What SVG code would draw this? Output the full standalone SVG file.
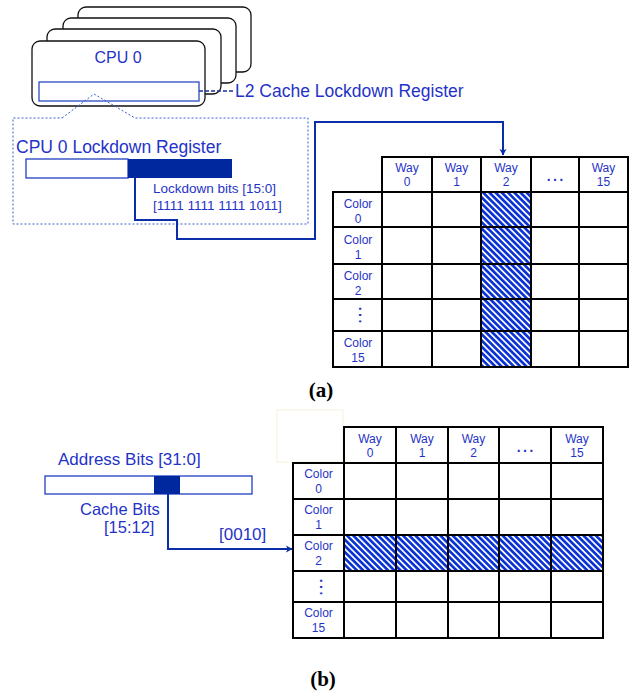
<svg xmlns="http://www.w3.org/2000/svg" width="634" height="694" viewBox="0 0 634 694">
<style>
.t{font-family:"Liberation Sans",Arial,sans-serif;fill:#1f33c8}
.c{font-size:12px;text-anchor:middle}
.card{fill:#fff;stroke:#111;stroke-width:1.3}
.cell{fill:#fff;stroke:#000;stroke-width:2}
.hcell{fill:url(#hatch);stroke:#000;stroke-width:2}
.conn{fill:none;stroke:#0a2ea8;stroke-width:2}
.cap{font-family:"Liberation Serif","Times New Roman",serif;font-weight:bold;font-size:21px;text-anchor:middle;fill:#000}
</style>
<defs>
<pattern id="hatch" patternUnits="userSpaceOnUse" width="4.4" height="4.4" patternTransform="rotate(-45)">
<rect width="4.4" height="4.4" fill="#0b33d4"/>
<rect x="0" y="0" width="1.7" height="4.4" fill="#fff"/>
</pattern>
<marker id="arr" markerWidth="8" markerHeight="8" refX="6" refY="4" orient="auto" markerUnits="userSpaceOnUse">
<path d="M0,0.5 L6.5,4 L0,7.5 L1.5,4 Z" fill="#0a2ea8"/>
</marker>
</defs>
<rect width="634" height="694" fill="#fff"/>

<g id="cpu-stack">
<rect class="card" x="78" y="7" width="173" height="65" rx="8"/>
<rect class="card" x="63" y="18" width="173" height="65" rx="8"/>
<rect class="card" x="47" y="29" width="174" height="65" rx="8"/>
<rect class="card" x="32" y="41" width="173" height="65" rx="8"/>
<text class="t" x="118" y="63" font-size="16" text-anchor="middle">CPU 0</text>
<rect x="39" y="82" width="160" height="19" fill="#fff" stroke="#2a4cc0" stroke-width="1.3"/>
</g>

<g id="l2-label">
<line x1="199" y1="91" x2="233" y2="91" stroke="#1c2f9c" stroke-width="1.5" stroke-dasharray="4,2"/>
<text class="t" x="235" y="97" font-size="17.5">L2 Cache Lockdown Register</text>
</g>

<g id="lockdown-register">
<path d="M62,118 L94,94 L135,118 H308 V224 H13 V118 Z" fill="none" stroke="#3a5bd0" stroke-width="1" stroke-dasharray="2,2"/>
<text class="t" x="16" y="153" font-size="17.5">CPU 0 Lockdown Register</text>
<rect x="26" y="159" width="102" height="19" fill="#fff" stroke="#1f3fc0" stroke-width="1.3"/>
<rect x="128" y="159" width="104" height="19" fill="#00289e"/>
<text class="t" x="153" y="193" font-size="13.5">Lockdown bits [15:0]</text>
<text class="t" x="153" y="210" font-size="13.5">[1111 1111 1111 1011]</text>
</g>

<g id="table-a">
<rect class="cell" x="382" y="157" width="50" height="35"/>
<rect class="cell" x="432" y="157" width="49" height="35"/>
<rect class="cell" x="481" y="157" width="50" height="35"/>
<rect class="cell" x="531" y="157" width="48" height="35"/>
<rect class="cell" x="579" y="157" width="49" height="35"/>
<text class="t c" x="407" y="172">Way</text><text class="t c" x="407" y="186">0</text>
<text class="t c" x="456.5" y="172">Way</text><text class="t c" x="456.5" y="186">1</text>
<text class="t c" x="506" y="172">Way</text><text class="t c" x="506" y="186">2</text>
<text class="t" x="555" y="181" font-size="20" text-anchor="middle">…</text>
<text class="t c" x="603.5" y="172">Way</text><text class="t c" x="603.5" y="186">15</text>

<g>
<rect class="cell" x="333" y="192" width="49" height="35"/>
<rect class="cell" x="382" y="192" width="50" height="35"/>
<rect class="cell" x="432" y="192" width="49" height="35"/>
<rect class="hcell" x="481" y="192" width="50" height="35"/>
<rect class="cell" x="531" y="192" width="48" height="35"/>
<rect class="cell" x="579" y="192" width="49" height="35"/>
<rect class="cell" x="333" y="227" width="49" height="37"/>
<rect class="cell" x="382" y="227" width="50" height="37"/>
<rect class="cell" x="432" y="227" width="49" height="37"/>
<rect class="hcell" x="481" y="227" width="50" height="37"/>
<rect class="cell" x="531" y="227" width="48" height="37"/>
<rect class="cell" x="579" y="227" width="49" height="37"/>
<rect class="cell" x="333" y="264" width="49" height="35"/>
<rect class="cell" x="382" y="264" width="50" height="35"/>
<rect class="cell" x="432" y="264" width="49" height="35"/>
<rect class="hcell" x="481" y="264" width="50" height="35"/>
<rect class="cell" x="531" y="264" width="48" height="35"/>
<rect class="cell" x="579" y="264" width="49" height="35"/>
<rect class="cell" x="333" y="299" width="49" height="32"/>
<rect class="cell" x="382" y="299" width="50" height="32"/>
<rect class="cell" x="432" y="299" width="49" height="32"/>
<rect class="hcell" x="481" y="299" width="50" height="32"/>
<rect class="cell" x="531" y="299" width="48" height="32"/>
<rect class="cell" x="579" y="299" width="49" height="32"/>
<rect class="cell" x="333" y="331" width="49" height="36"/>
<rect class="cell" x="382" y="331" width="50" height="36"/>
<rect class="cell" x="432" y="331" width="49" height="36"/>
<rect class="hcell" x="481" y="331" width="50" height="36"/>
<rect class="cell" x="531" y="331" width="48" height="36"/>
<rect class="cell" x="579" y="331" width="49" height="36"/>
</g>
<text class="t c" x="358" y="208">Color</text><text class="t c" x="358" y="223">0</text>
<text class="t c" x="358" y="244">Color</text><text class="t c" x="358" y="259">1</text>
<text class="t c" x="358" y="280">Color</text><text class="t c" x="358" y="295">2</text>
<text class="t" font-size="20" text-anchor="middle" transform="translate(359,315) rotate(90)">…</text>
<text class="t c" x="358" y="347">Color</text><text class="t c" x="358" y="362">15</text>
</g>

<text class="cap" x="321" y="397">(a)</text>

<g id="address-bits">
<text class="t" x="58" y="465" font-size="17">Address Bits [31:0]</text>
<rect x="45" y="476" width="207" height="18" fill="#fff" stroke="#1f3fc0" stroke-width="1.3"/>
<rect x="154" y="476" width="26" height="18" fill="#00289e"/>
<text class="t" x="80" y="515" font-size="16.5">Cache Bits</text>
<text class="t" x="104" y="533" font-size="16.5">[15:12]</text>
<text class="t" x="219" y="540" font-size="17">[0010]</text>
</g>

<g id="table-b">
<rect x="277" y="410" width="66" height="52" fill="none" stroke="#f7f2dc" stroke-width="1"/>
<rect class="cell" x="344" y="427" width="52" height="36"/>
<rect class="cell" x="396" y="427" width="52" height="36"/>
<rect class="cell" x="448" y="427" width="51" height="36"/>
<rect class="cell" x="499" y="427" width="52" height="36"/>
<rect class="cell" x="551" y="427" width="52" height="36"/>
<text class="t c" x="370" y="443">Way</text><text class="t c" x="370" y="457">0</text>
<text class="t c" x="422" y="443">Way</text><text class="t c" x="422" y="457">1</text>
<text class="t c" x="473.5" y="443">Way</text><text class="t c" x="473.5" y="457">2</text>
<text class="t" x="525" y="452" font-size="20" text-anchor="middle">…</text>
<text class="t c" x="577" y="443">Way</text><text class="t c" x="577" y="457">15</text>
<g>
<rect class="cell" x="293" y="463" width="51" height="36"/>
<rect class="cell" x="344" y="463" width="52" height="36"/>
<rect class="cell" x="396" y="463" width="52" height="36"/>
<rect class="cell" x="448" y="463" width="51" height="36"/>
<rect class="cell" x="499" y="463" width="52" height="36"/>
<rect class="cell" x="551" y="463" width="52" height="36"/>
<rect class="cell" x="293" y="499" width="51" height="36"/>
<rect class="cell" x="344" y="499" width="52" height="36"/>
<rect class="cell" x="396" y="499" width="52" height="36"/>
<rect class="cell" x="448" y="499" width="51" height="36"/>
<rect class="cell" x="499" y="499" width="52" height="36"/>
<rect class="cell" x="551" y="499" width="52" height="36"/>
<rect class="cell" x="293" y="535" width="51" height="36"/>
<rect class="hcell" x="344" y="535" width="52" height="36"/>
<rect class="hcell" x="396" y="535" width="52" height="36"/>
<rect class="hcell" x="448" y="535" width="51" height="36"/>
<rect class="hcell" x="499" y="535" width="52" height="36"/>
<rect class="hcell" x="551" y="535" width="52" height="36"/>
<rect class="cell" x="293" y="571" width="51" height="31"/>
<rect class="cell" x="344" y="571" width="52" height="31"/>
<rect class="cell" x="396" y="571" width="52" height="31"/>
<rect class="cell" x="448" y="571" width="51" height="31"/>
<rect class="cell" x="499" y="571" width="52" height="31"/>
<rect class="cell" x="551" y="571" width="52" height="31"/>
<rect class="cell" x="293" y="602" width="51" height="36"/>
<rect class="cell" x="344" y="602" width="52" height="36"/>
<rect class="cell" x="396" y="602" width="52" height="36"/>
<rect class="cell" x="448" y="602" width="51" height="36"/>
<rect class="cell" x="499" y="602" width="52" height="36"/>
<rect class="cell" x="551" y="602" width="52" height="36"/>
</g>
<text class="t c" x="318.5" y="478">Color</text><text class="t c" x="318.5" y="493">0</text>
<text class="t c" x="318.5" y="514">Color</text><text class="t c" x="318.5" y="529">1</text>
<text class="t c" x="318.5" y="550">Color</text><text class="t c" x="318.5" y="565">2</text>
<text class="t" font-size="20" text-anchor="middle" transform="translate(320,587) rotate(90)">…</text>
<text class="t c" x="318.5" y="617">Color</text><text class="t c" x="318.5" y="632">15</text>
</g>

<text class="cap" x="323" y="686">(b)</text>

<g id="connectors">
<path class="conn" d="M135,178 V220 H177 V239 H315 V122 H503 V155" marker-end="url(#arr)"/>
<path class="conn" d="M168,494 V549 H292" marker-end="url(#arr)"/>
</g>
</svg>
